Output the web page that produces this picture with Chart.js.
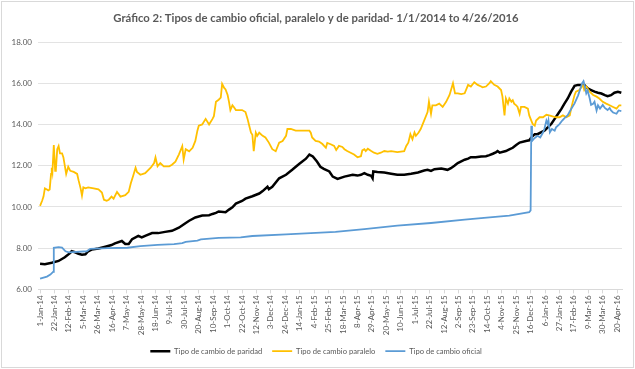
<!DOCTYPE html>
<html>
<head>
<meta charset="utf-8">
<script src="https://cdn.jsdelivr.net/npm/chart.js@4/dist/chart.umd.min.js"></script>
<style>
  html, body { margin: 0; padding: 0; background: #ffffff; }
  #wrap { width: 635px; height: 369px; position: relative; }
</style>
</head>
<body>
<div id="wrap"><canvas id="c" width="635" height="369"></canvas></div>
<script>
// ---- Data (day index counted from 1-Jan-2014) ----
const chartTitle = "Gráfico 2: Tipos de cambio oficial, paralelo y de paridad- 1/1/2014 to 4/26/2016";
const seriesNames = ["Tipo de cambio de paridad", "Tipo de cambio paralelo", "Tipo de cambio oficial"];

const tickLabels = ["1-Jan-14","22-Jan-14","12-Feb-14","5-Mar-14","26-Mar-14","16-Apr-14","7-May-14","28-May-14","18-Jun-14","9-Jul-14","30-Jul-14","20-Aug-14","10-Sep-14","1-Oct-14","22-Oct-14","12-Nov-14","3-Dec-14","24-Dec-14","14-Jan-15","4-Feb-15","25-Feb-15","18-Mar-15","8-Apr-15","29-Apr-15","20-May-15","10-Jun-15","1-Jul-15","22-Jul-15","12-Aug-15","2-Sep-15","23-Sep-15","14-Oct-15","4-Nov-15","25-Nov-15","16-Dec-15","6-Jan-16","27-Jan-16","17-Feb-16","9-Mar-16","30-Mar-16","20-Apr-16"];
const tickStepDays = 21;
const lastDay = 846;

const paridadDays = [0,7,17,27,36,44,46,51,56,61,66,70,75,85,95,104,109,119,124,129,134,143,148,153,163,172,182,192,202,211,217,226,236,246,251,256,260,270,275,280,285,294,299,309,319,324,331,333,338,348,358,367,377,387,392,397,403,408,413,421,426,433,443,455,462,467,472,477,482,484,485,491,501,511,520,530,540,550,559,564,569,574,584,593,598,603,608,613,618,623,627,634,642,649,654,659,664,666,669,678,683,688,693,698,707,712,715,720,724,729,734,739,744,749,754,759,763,768,773,778,783,788,793,797,802,807,812,817,822,826,831,836,841,846];
const paridadValues = [7.24,7.22,7.29,7.38,7.56,7.77,7.85,7.80,7.73,7.68,7.70,7.85,7.93,7.98,8.07,8.15,8.23,8.35,8.20,8.20,8.44,8.60,8.52,8.60,8.73,8.73,8.79,8.84,8.99,9.20,9.33,9.49,9.58,9.60,9.66,9.71,9.78,9.74,9.87,9.98,10.16,10.29,10.40,10.52,10.65,10.77,10.98,10.86,10.98,11.39,11.56,11.80,12.08,12.34,12.54,12.45,12.20,11.95,11.85,11.72,11.47,11.36,11.47,11.56,11.52,11.56,11.64,11.56,11.51,11.39,11.72,11.69,11.67,11.61,11.56,11.56,11.61,11.67,11.77,11.80,11.75,11.83,11.86,11.80,11.88,12.00,12.13,12.21,12.29,12.34,12.41,12.41,12.45,12.46,12.51,12.58,12.66,12.71,12.63,12.71,12.79,12.87,13.00,13.12,13.20,13.23,13.37,13.53,13.53,13.62,13.70,13.86,14.02,14.27,14.52,14.77,15.00,15.26,15.59,15.87,15.92,15.92,15.89,15.75,15.67,15.59,15.54,15.50,15.42,15.37,15.42,15.54,15.59,15.54];

const paraleloDays = [0,3,5,7,10,12,14,16,17,18,20,22,23,25,27,29,32,34,36,38,41,44,49,54,56,59,61,63,66,70,78,85,90,93,97,100,104,107,112,117,124,129,132,136,139,141,146,153,161,166,168,171,175,180,188,192,197,202,207,209,212,217,222,226,229,231,236,241,246,251,253,256,260,263,265,268,270,273,275,277,280,282,285,294,299,302,304,307,309,311,314,316,319,324,328,333,338,343,348,353,358,360,365,372,382,392,394,396,401,406,411,416,418,423,428,431,435,440,443,447,452,457,462,467,469,472,474,477,482,486,491,496,501,506,511,520,530,533,536,539,542,545,547,551,554,559,564,566,569,571,576,581,586,591,596,601,604,608,613,618,623,627,632,637,642,644,649,654,656,661,666,671,673,676,678,681,683,686,688,690,693,695,698,700,705,710,712,715,717,720,722,727,732,737,741,746,751,756,761,766,771,773,776,778,780,785,790,792,795,800,805,810,814,819,824,829,834,839,843,846];
const paraleloValues = [10.05,10.30,10.50,10.90,10.85,10.80,10.85,11.60,11.90,11.70,13.00,11.75,11.80,12.80,12.95,12.60,12.60,12.40,12.00,11.60,11.95,11.75,11.70,11.60,11.30,10.90,10.55,10.95,10.90,10.95,10.90,10.85,10.70,10.35,10.30,10.35,10.50,10.40,10.73,10.50,10.57,10.73,11.14,11.56,11.90,11.70,11.56,11.64,11.90,12.13,12.40,11.97,12.13,11.97,11.97,12.05,12.20,12.54,12.95,12.30,12.80,12.70,12.87,13.20,13.70,13.94,14.00,14.27,14.00,14.27,14.40,15.10,15.20,15.30,15.97,15.77,15.70,15.43,15.10,14.70,14.93,14.85,14.70,14.70,14.60,14.27,14.00,13.60,13.50,12.70,13.60,13.45,13.60,13.45,13.37,13.12,12.80,12.70,13.12,13.20,13.45,13.78,13.78,13.70,13.70,13.70,13.60,13.37,13.20,13.17,13.05,12.87,13.10,13.04,12.96,12.76,12.96,12.91,12.80,12.71,12.63,12.54,12.41,12.46,12.74,12.80,12.71,12.82,12.71,12.63,12.58,12.63,12.71,12.68,12.71,12.66,12.71,12.96,13.12,13.53,13.28,13.61,13.45,13.61,13.78,14.19,14.60,15.10,14.52,14.93,14.93,15.01,14.85,15.10,15.43,16.00,15.51,15.51,15.47,15.51,15.92,15.84,16.05,15.92,15.84,15.80,15.84,16.00,16.10,15.92,15.84,15.67,15.35,14.44,15.26,15.01,15.26,15.10,15.18,15.01,14.93,14.85,14.52,14.85,14.85,14.77,14.44,14.19,14.02,13.94,14.19,14.35,14.35,14.47,14.44,14.39,14.35,14.35,14.44,14.35,14.44,14.77,15.18,15.43,15.59,15.67,15.92,15.67,15.84,15.59,15.43,15.35,15.26,15.10,15.01,14.93,14.85,14.77,14.93,14.93];

const oficialDays = [0,10,15,19,20,27,32,37,42,68,73,98,127,146,171,195,207,212,229,234,260,292,309,358,430,472,520,569,618,642,683,712,714,715,716,718,721,724,728,732,734,737,739,740,742,745,749,751,756,760,763,768,773,778,783,786,789,791,793,795,797,800,802,805,807,810,812,815,819,822,826,829,831,834,839,842,846];
const oficialValues = [6.52,6.62,6.72,6.85,8.02,8.05,8.03,7.85,7.80,7.85,7.97,8.00,8.02,8.10,8.16,8.20,8.24,8.30,8.37,8.43,8.50,8.52,8.59,8.67,8.79,8.92,9.09,9.22,9.38,9.46,9.58,9.75,9.83,13.94,13.20,13.28,13.37,13.45,13.37,13.61,13.78,14.19,14.02,14.19,13.62,13.78,13.70,13.86,14.02,14.19,14.30,14.45,14.75,15.02,15.40,15.70,16.00,16.10,15.84,15.51,15.65,15.26,14.95,15.00,15.10,14.68,14.93,14.77,14.95,14.80,14.70,14.80,14.68,14.58,14.52,14.68,14.65];

const yTicks = { min: 6, max: 18, step: 2 };
const colors = { paridad: "#000000", paralelo: "#FFC000", oficial: "#5B9BD5" };

function toPoints(days, vals) { return days.map((d, i) => ({ x: d, y: vals[i] })); }

const FONT = "Lato, 'Open Sans', sans-serif";
const TEXT = "#595959";

// fit the (bold) title font so it spans about the same width as in the reference
const mctx = document.createElement("canvas").getContext("2d");
mctx.font = "bold 10px " + FONT;
const titleSize = Math.max(9, Math.min(15, 10 * 406 / mctx.measureText(chartTitle).width));
const titleTop = 12;
const titleBottom = 42 - titleTop - titleSize * 1.2;

const frame = {
  id: "frame",
  beforeDraw(chart) {
    const ctx = chart.ctx;
    ctx.save();
    ctx.fillStyle = "#ffffff";
    ctx.fillRect(0, 0, chart.width, chart.height);
    ctx.strokeStyle = "#d9d9d9";
    ctx.lineWidth = 1;
    ctx.strokeRect(1.5, 1.5, chart.width - 3, chart.height - 3);
    ctx.restore();
  }
};

new Chart(document.getElementById("c"), {
  type: "line",
  data: {
    datasets: [
      { label: seriesNames[0], data: toPoints(paridadDays, paridadValues), borderColor: colors.paridad, backgroundColor: colors.paridad, borderWidth: 2.5, pointRadius: 0, tension: 0, order: 3 },
      { label: seriesNames[1], data: toPoints(paraleloDays, paraleloValues), borderColor: colors.paralelo, backgroundColor: colors.paralelo, borderWidth: 1.8, pointRadius: 0, tension: 0, order: 2 },
      { label: seriesNames[2], data: toPoints(oficialDays, oficialValues), borderColor: colors.oficial, backgroundColor: colors.oficial, borderWidth: 1.8, pointRadius: 0, tension: 0, order: 1 }
    ]
  },
  options: {
    responsive: false,
    animation: false,
    devicePixelRatio: 1,
    layout: { padding: { left: 10, right: 13, top: 0, bottom: 4 } },
    plugins: {
      title: {
        display: true,
        text: chartTitle,
        color: TEXT,
        font: { family: FONT, size: titleSize, weight: "bold" },
        padding: { top: titleTop, bottom: titleBottom }
      },
      legend: {
        position: "bottom",
        labels: {
          sort: (a, b) => a.datasetIndex - b.datasetIndex,
          color: TEXT,
          font: { family: FONT, size: 7.6 },
          usePointStyle: true,
          pointStyle: "line",
          pointStyleWidth: 20,
          padding: 10
        }
      },
      tooltip: { enabled: false }
    },
    scales: {
      x: {
        type: "linear",
        min: -3,
        max: lastDay + 1,
        afterBuildTicks(axis) {
          axis.ticks = tickLabels.map((_, i) => ({ value: i * tickStepDays }));
        },
        afterFit(axis) { axis.height = 48; },
        ticks: {
          autoSkip: false,
          minRotation: 90,
          maxRotation: 90,
          color: TEXT,
          font: { family: FONT, size: 8 },
          padding: 2,
          callback: (v) => tickLabels[Math.round(v / tickStepDays)] ?? ""
        },
        grid: { drawOnChartArea: false, drawTicks: true, tickLength: 4, color: "#d9d9d9" },
        border: { display: true, color: "#d9d9d9" }
      },
      y: {
        min: yTicks.min,
        max: yTicks.max,
        afterFit(axis) { axis.width = 28; },
        ticks: {
          stepSize: yTicks.step,
          color: TEXT,
          font: { family: FONT, size: 8 },
          padding: 6,
          callback: (v) => Number(v).toFixed(2)
        },
        grid: { color: "#e3e3e3", drawTicks: false, lineWidth: 1 },
        border: { display: false }
      }
    }
  },
  plugins: [frame]
});
</script>
</body>
</html>
